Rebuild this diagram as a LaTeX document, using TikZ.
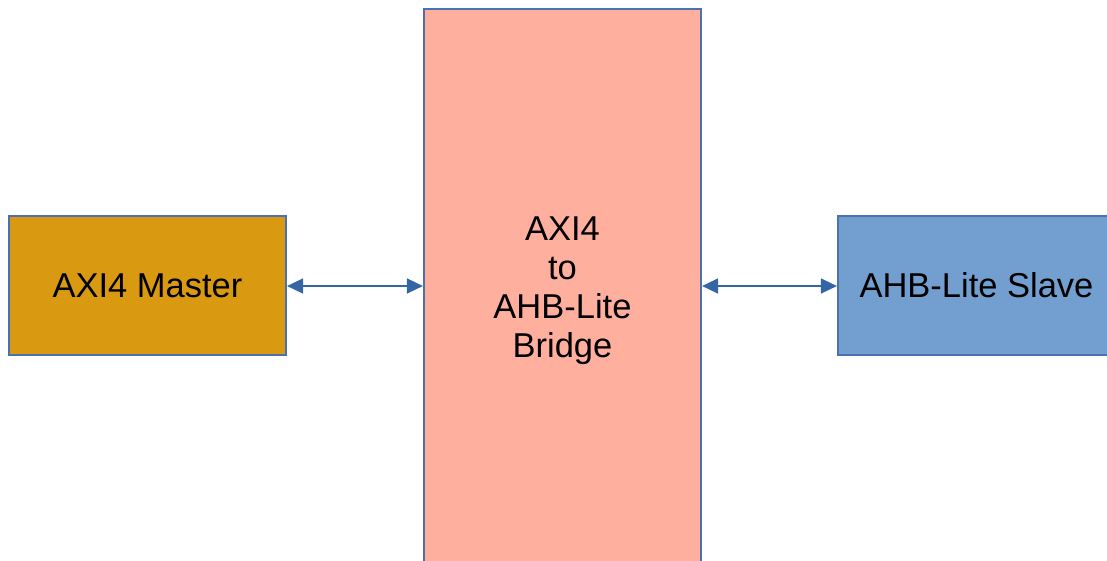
\documentclass[tikz,border=0pt]{standalone}
\usepackage{fontspec}
\setmainfont{Liberation Sans}
\usetikzlibrary{arrows.meta}
\definecolor{edgeblue}{HTML}{4A72B0}
\definecolor{arrowblue}{HTML}{3465A4}
\definecolor{masterfill}{HTML}{D99A12}
\definecolor{bridgefill}{HTML}{FFAF9E}
\definecolor{slavefill}{HTML}{729FCF}
\begin{document}
\begin{tikzpicture}[x=1pt,y=-1pt,
  blockbox/.style={draw=edgeblue, line width=1.2pt, minimum width=277pt, minimum height=139pt, inner sep=0pt, font=\fontsize{34.5}{39}\selectfont, text=black, align=center},
  biarrow/.style={draw=arrowblue, line width=1.6pt, {Triangle[length=16pt,width=15pt]}-{Triangle[length=16pt,width=15pt]}, shorten <=0.5pt, shorten >=0.5pt}
]
\path[use as bounding box, clip] (0,0) rectangle (1107,560);
\node[blockbox, fill=masterfill] (master) at (147.5,285.5) {AXI4 Master};
\node[blockbox, fill=bridgefill, minimum height=564pt] (bridge) at (562.5,291) {AXI4\\to\\AHB-Lite\\Bridge};
\node[blockbox, fill=slavefill] (slave) at (976.5,285.5) {AHB-Lite Slave};
\draw[biarrow] (master.east |- 0,286) -- (bridge.west |- 0,286);
\draw[biarrow] (bridge.east |- 0,286) -- (slave.west |- 0,286);
\end{tikzpicture}
\end{document}
